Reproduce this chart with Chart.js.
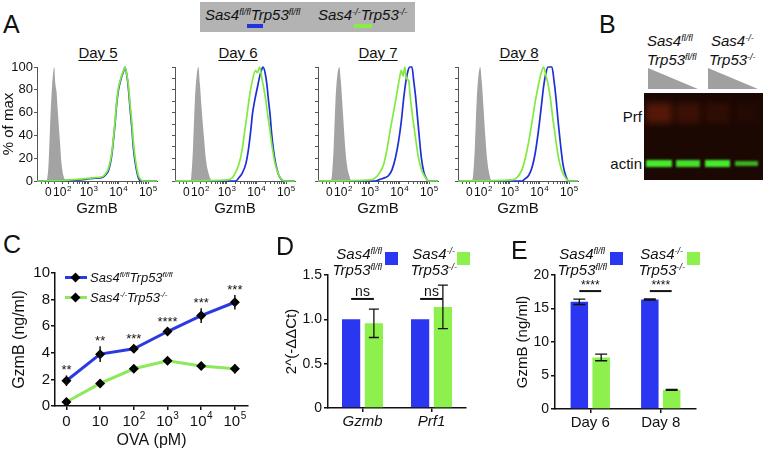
<!DOCTYPE html>
<html>
<head>
<meta charset="utf-8">
<script src="https://cdn.jsdelivr.net/npm/chart.js@4.4.1/dist/chart.umd.min.js"></script>
<style>
  body { margin: 0; width: 763px; height: 450px; position: relative; overflow: hidden; background: #fff;
         font-family: 'Liberation Sans', Arial, sans-serif; color: #111; }
  canvas, .t, .box { position: absolute; }
  .t { white-space: nowrap; line-height: 1; }
  .big { font-size: 25px; }
  .it { font-style: italic; }
  .s15 { font-size: 15px; }
  .s13 { font-size: 13px; }
  .day { font-size: 15px; text-decoration: underline; text-underline-offset: 2px; transform: translateX(-50%); }
  sup { font-size: 0.6em; position: relative; top: -0.6em; vertical-align: baseline; line-height: 0; }
</style>
</head>
<body>

<!-- panel A -->
<div class="t big" style="left:3px;top:12px">A</div>
<div class="box" style="left:200px;top:2px;width:215px;height:30px;background:#b3b3b3"></div>
<div class="t s15 it" style="left:205px;top:7px">Sas4<sup>fl/fl</sup>Trp53<sup>fl/fl</sup></div>
<div class="t s15 it" style="left:318px;top:7px">Sas4<sup>-/-</sup>Trp53<sup>-/-</sup></div>
<div class="box" style="left:247px;top:24px;width:16px;height:4px;background:#2233dd"></div>
<div class="box" style="left:354px;top:24px;width:18px;height:4px;background:#86ee45"></div>
<div class="t day" style="left:98px;top:45px">Day 5</div>
<div class="t day" style="left:238px;top:45px">Day 6</div>
<div class="t day" style="left:378px;top:45px">Day 7</div>
<div class="t day" style="left:519px;top:45px">Day 8</div>
<canvas id="h5" width="160" height="180" style="left:0px;top:40px"></canvas>
<canvas id="h6" width="160" height="180" style="left:138px;top:40px"></canvas>
<canvas id="h7" width="160" height="180" style="left:281px;top:40px"></canvas>
<canvas id="h8" width="160" height="180" style="left:421px;top:40px"></canvas>

<!-- panel B -->
<div class="t big" style="left:599px;top:12px">B</div>
<div class="t s15 it" style="left:647px;top:33px">Sas4<sup>fl/fl</sup></div>
<div class="t s15 it" style="left:647px;top:52px">Trp53<sup>fl/fl</sup></div>
<div class="t s15 it" style="left:711px;top:33px">Sas4<sup>-/-</sup></div>
<div class="t s15 it" style="left:709px;top:52px">Trp53<sup>-/-</sup></div>
<div class="box" style="left:648px;top:68px;width:50px;height:21px;background:#a0a0a0;clip-path:polygon(0 0,100% 100%,0 100%)"></div>
<div class="box" style="left:708px;top:68px;width:50px;height:21px;background:#a0a0a0;clip-path:polygon(0 0,100% 100%,0 100%)"></div>
<canvas id="blot" width="119" height="87" style="left:644px;top:93px"></canvas>
<div class="t s15" style="right:121px;top:109px">Prf</div>
<div class="t s15" style="right:121px;top:156px">actin</div>

<!-- panel C -->
<div class="t big" style="left:3px;top:232px">C</div>
<canvas id="cC" width="262" height="220" style="left:0px;top:230px"></canvas>
<div class="box" style="left:65px;top:276px;width:22px;height:3px;background:#2a3ae0"></div>
<div class="box" style="left:72px;top:274px;width:7px;height:7px;background:#000;transform:rotate(45deg)"></div>
<div class="t s13 it" style="left:90px;top:271px">Sas4<sup>fl/fl</sup>Trp53<sup>fl/fl</sup></div>
<div class="box" style="left:65px;top:296px;width:22px;height:3px;background:#8de85a"></div>
<div class="box" style="left:72px;top:294px;width:7px;height:7px;background:#000;transform:rotate(45deg)"></div>
<div class="t s13 it" style="left:90px;top:291px">Sas4<sup>-/-</sup>Trp53<sup>-/-</sup></div>

<!-- panel D -->
<div class="t big" style="left:276px;top:234px">D</div>
<canvas id="cD" width="200" height="220" style="left:270px;top:230px"></canvas>
<div class="t s15 it" style="right:381px;top:246px">Sas4<sup>fl/fl</sup></div>
<div class="t s15 it" style="right:381px;top:262px">Trp53<sup>fl/fl</sup></div>
<div class="box" style="left:385px;top:252px;width:13px;height:13px;background:#2a36ef"></div>
<div class="t s15 it" style="right:308px;top:246px">Sas4<sup>-/-</sup></div>
<div class="t s15 it" style="right:306px;top:262px">Trp53<sup>-/-</sup></div>
<div class="box" style="left:457px;top:252px;width:13px;height:13px;background:#8df04c"></div>

<!-- panel E -->
<div class="t big" style="left:511px;top:238px">E</div>
<canvas id="cE" width="190" height="220" style="left:510px;top:230px"></canvas>
<div class="t s15 it" style="right:158px;top:246px">Sas4<sup>fl/fl</sup></div>
<div class="t s15 it" style="right:156px;top:262px">Trp53<sup>fl/fl</sup></div>
<div class="box" style="left:610px;top:252px;width:13px;height:13px;background:#2a36ef"></div>
<div class="t s15 it" style="right:80px;top:246px">Sas4<sup>-/-</sup></div>
<div class="t s15 it" style="right:78px;top:262px">Trp53<sup>-/-</sup></div>
<div class="box" style="left:687px;top:252px;width:13px;height:13px;background:#8df04c"></div>

<script>
// ---- data ----
// flow histograms: [GzmB position in decades (biexponential display), % of max]
const histTickLabels = ['0', '10^2', '10^3', '10^4', '10^5'];
const histTickPos = [1.63, 2.1, 3, 4, 5];
const d5Gray = [[1.25,0],[1.56,0],[1.60,3],[1.64,15],[1.69,47],[1.75,80],[1.80,96],[1.83,100],[1.87,85],[1.91,78],[1.95,62],[2.03,33],[2.08,15],[2.15,4],[2.25,0],[5.3,0]];
const d5Blue = [[1.25,0],[2.3,0.5],[2.9,1.5],[3.2,2.5],[3.43,3],[3.55,5],[3.66,9],[3.77,22],[3.83,36],[3.89,52],[3.94,68],[4.0,80],[4.09,90],[4.17,96],[4.22,100],[4.28,93],[4.34,80],[4.39,64],[4.45,47],[4.5,30],[4.56,17],[4.62,8],[4.67,3],[4.76,0],[5.3,0]];
const d5Green = [[1.25,0],[2.3,0.8],[2.9,2],[3.2,3],[3.43,3.5],[3.55,6],[3.66,11],[3.77,24],[3.83,38],[3.89,54],[3.94,70],[4.0,82],[4.09,91],[4.17,97],[4.22,100],[4.28,94],[4.34,83],[4.39,68],[4.45,52],[4.5,35],[4.56,21],[4.62,11],[4.67,5],[4.76,1],[4.85,0],[5.3,0]];
const d6Gray = [[1.25,0],[1.75,0],[1.8,4],[1.86,30],[1.92,70],[1.98,92],[2.04,100],[2.09,85],[2.15,63],[2.23,38],[2.29,20],[2.38,7],[2.51,0],[5.3,0]];
const d6Blue = [[1.25,0],[3.3,0],[3.41,3],[3.52,7],[3.64,15],[3.73,28],[3.81,45],[3.86,58],[3.95,72],[4.03,82],[4.11,92],[4.18,98],[4.22,100],[4.29,95],[4.35,85],[4.4,72],[4.46,58],[4.51,42],[4.57,28],[4.65,15],[4.74,6],[4.82,2],[4.93,0],[5.3,0]];
const d6Green = [[1.25,0],[3.02,1],[3.19,3],[3.3,8],[3.41,15],[3.52,28],[3.61,45],[3.69,60],[3.77,75],[3.86,88],[3.97,97],[4.03,95],[4.11,100],[4.18,90],[4.22,85],[4.29,75],[4.37,60],[4.45,45],[4.54,28],[4.63,15],[4.74,6],[4.87,1],[4.98,0],[5.3,0]];
const d7Gray = [[1.25,0],[1.66,0],[1.72,5],[1.78,30],[1.84,70],[1.9,92],[1.97,100],[2.02,88],[2.08,65],[2.14,40],[2.2,20],[2.28,7],[2.4,0],[5.3,0]];
const d7Blue = [[1.25,0],[3.19,0],[3.3,1],[3.41,2],[3.52,3],[3.64,5],[3.75,10],[3.86,20],[3.97,35],[4.06,52],[4.14,72],[4.22,88],[4.29,97],[4.35,100],[4.42,100],[4.48,88],[4.54,75],[4.6,58],[4.67,38],[4.74,20],[4.82,8],[4.91,2],[4.99,0],[5.3,0]];
const d7Green = [[1.25,0],[3.02,1],[3.19,3],[3.35,8],[3.47,15],[3.58,28],[3.69,45],[3.81,62],[3.92,78],[4.0,90],[4.06,97],[4.12,92],[4.18,100],[4.23,90],[4.31,88],[4.37,72],[4.45,55],[4.54,38],[4.63,22],[4.74,10],[4.85,4],[4.99,0],[5.3,0]];
const d8Gray = [[1.25,0],[1.7,0],[1.76,5],[1.82,30],[1.88,70],[1.94,92],[2.0,100],[2.05,88],[2.11,65],[2.17,40],[2.23,20],[2.3,7],[2.4,0],[5.3,0]];
const d8Blue = [[1.25,0],[3.41,0],[3.52,2],[3.64,5],[3.75,12],[3.86,25],[3.97,45],[4.06,65],[4.14,83],[4.22,95],[4.29,100],[4.42,100],[4.49,88],[4.56,72],[4.63,52],[4.71,32],[4.79,15],[4.88,5],[4.99,0],[5.3,0]];
const d8Green = [[1.25,0],[3.07,1],[3.24,3],[3.41,10],[3.52,20],[3.64,35],[3.75,52],[3.86,70],[3.97,85],[4.06,95],[4.14,100],[4.22,92],[4.29,85],[4.37,72],[4.45,55],[4.54,38],[4.63,22],[4.74,10],[4.87,3],[4.99,0],[5.3,0]];

// panel C
const ovaLabels = ['0', '10', '10^2', '10^3', '10^4', '10^5'];
const cBlue = [1.9, 3.9, 4.3, 5.6, 6.8, 7.8];
const cBlueErr = [0.4, 0.6, 0.2, 0.12, 0.55, 0.55];
const cGreen = [0.3, 1.7, 2.8, 3.4, 3.0, 2.8];
const cGreenErr = [0.15, 0.1, 0.1, 0.12, 0.12, 0.35];
const cStars = ['**', '**', '***', '****', '***', '***'];

// panel D
const dCats = ['Gzmb', 'Prf1'];
const dBlue = [1.0, 1.0];
const dBlueErr = [0, 0];
const dGreen = [0.955, 1.14];
const dGreenErr = [0.16, 0.245];
const dSig = ['ns', 'ns'];
const dSigLevel = [1.23, 1.23];

// panel E
const eCats = ['Day 6', 'Day 8'];
const eBlue = [16.0, 16.35];
const eBlueErr = [0.4, 0.1];
const eGreen = [7.7, 2.85];
const eGreenErr = [0.5, 0.08];
const eSig = ['****', '****'];
const eSigLevel = [17.6, 17.6];

// ---- setup ----
const FONT = "'Liberation Sans', Arial, sans-serif";
Chart.defaults.font.family = FONT;
Chart.defaults.color = '#111';
Chart.defaults.animation = false;
const BLUE = '#2a36ef', GREEN = '#8df04c';
const HBLUE = '#1f2fd6', HGREEN = '#80ea3e', HGRAY = '#a3a3a3';

// tick labels like 10^3 drawn with a raised exponent
const expTicks = {
  id: 'expTicks',
  afterDraw(chart, args, o) {
    if (!o.labels) return;
    const ctx = chart.ctx, sx = chart.scales.x;
    const y = sx.top + o.dy;
    ctx.save();
    ctx.fillStyle = '#111';
    ctx.textBaseline = 'middle';
    ctx.textAlign = 'left';
    o.labels.forEach((lab, i) => {
      const x = sx.getPixelForValue(o.pos[i]);
      const [b, e] = lab.split('^');
      const small = Math.round(o.size * 0.65) + 'px ' + FONT;
      ctx.font = o.size + 'px ' + FONT;
      const wb = ctx.measureText(b).width;
      let we = 0;
      if (e) { ctx.font = small; we = ctx.measureText(e).width + 0.5; }
      const x0 = x - (wb + we) / 2;
      ctx.font = o.size + 'px ' + FONT;
      ctx.fillText(b, x0, y);
      if (e) { ctx.font = small; ctx.fillText(e, x0 + wb + 0.5, y - o.size * 0.38); }
    });
    ctx.restore();
  }
};

const errorBars = {
  id: 'errorBars',
  afterDatasetsDraw(chart, args, o) {
    const ctx = chart.ctx, ys = chart.scales.y;
    ctx.save();
    ctx.strokeStyle = '#111';
    ctx.lineWidth = o.width || 1.5;
    chart.data.datasets.forEach((ds, i) => {
      if (!ds.errs) return;
      chart.getDatasetMeta(i).data.forEach((el, j) => {
        const e = ds.errs[j];
        if (!e) return;
        const y1 = ys.getPixelForValue(ds.vals[j] + e), y2 = ys.getPixelForValue(ds.vals[j] - e);
        ctx.beginPath();
        ctx.moveTo(el.x, y1); ctx.lineTo(el.x, y2);
        if (o.cap) {
          ctx.moveTo(el.x - o.cap, y1); ctx.lineTo(el.x + o.cap, y1);
          ctx.moveTo(el.x - o.cap, y2); ctx.lineTo(el.x + o.cap, y2);
        }
        ctx.stroke();
      });
    });
    ctx.restore();
  }
};

// significance bars between the two bars of a group
const sig = {
  id: 'sig',
  afterDatasetsDraw(chart, args, o) {
    if (!o.labels) return;
    const ctx = chart.ctx, ys = chart.scales.y;
    const m0 = chart.getDatasetMeta(0).data, m1 = chart.getDatasetMeta(1).data;
    ctx.save();
    ctx.strokeStyle = '#111'; ctx.fillStyle = '#111';
    ctx.lineWidth = o.width;
    ctx.font = o.size + 'px ' + FONT;
    ctx.textAlign = 'center'; ctx.textBaseline = 'alphabetic';
    o.labels.forEach((t, j) => {
      const y = ys.getPixelForValue(o.level[j]);
      const x1 = m0[j].x, x2 = m1[j].x;
      ctx.beginPath(); ctx.moveTo(x1, y); ctx.lineTo(x2, y); ctx.stroke();
      ctx.fillText(t, (x1 + x2) / 2, y - o.gap);
    });
    ctx.restore();
  }
};

const stars = {
  id: 'stars',
  afterDatasetsDraw(chart, args, o) {
    if (!o.labels) return;
    const ctx = chart.ctx, ys = chart.scales.y;
    const ds = chart.data.datasets[0], pts = chart.getDatasetMeta(0).data;
    ctx.save();
    ctx.fillStyle = '#111';
    ctx.font = o.size + 'px ' + FONT;
    ctx.textAlign = 'center'; ctx.textBaseline = 'alphabetic';
    o.labels.forEach((t, j) => {
      const top = Math.min(ys.getPixelForValue(ds.vals[j] + ds.errs[j]), pts[j].y - 5);
      ctx.fillText(t, pts[j].x, top - 1);
    });
    ctx.restore();
  }
};

Chart.register(expTicks, errorBars, sig, stars);

// minor ticks on the GzmB axis
const histMinor = [1.4, 1.52, 1.85];
[2, 3, 4].forEach(n => { for (let k = 2; k < 10; k++) histMinor.push(n + Math.log10(k)); });

function hist(id, gray, blue, green, first) {
  const pts = a => a.map(p => ({ x: p[0], y: p[1] }));
  const line = (a, c) => ({ data: pts(a), borderColor: c, borderWidth: 1.7, pointRadius: 0,
                            cubicInterpolationMode: 'monotone', clip: false, fill: false });
  new Chart(document.getElementById(id), {
    type: 'line',
    data: {
      datasets: [
        line(green, HGREEN),
        line(blue, HBLUE),
        { data: pts(gray), borderWidth: 0, backgroundColor: HGRAY, fill: 'origin', pointRadius: 0,
          cubicInterpolationMode: 'monotone' }
      ]
    },
    options: {
      responsive: false,
      animation: false,
      layout: { padding: { top: 27, right: 3 } },
      plugins: {
        legend: { display: false },
        tooltip: { enabled: false },
        expTicks: { pos: histTickPos, labels: histTickLabels, size: 12, dy: 12 }
      },
      scales: {
        x: {
          type: 'linear', min: 1.25, max: 5.3,
          afterBuildTicks: s => { s.ticks = histMinor.concat(histTickPos).map(v => ({ value: v })); },
          afterFit: s => { s.height = 39; },
          ticks: { display: false },
          grid: { drawOnChartArea: false, tickLength: 3, color: '#555' },
          border: { color: '#555' },
          title: { display: true, text: 'GzmB', font: { size: 15 }, padding: { top: 0, bottom: 2 } }
        },
        y: {
          min: 0, max: 100,
          afterFit: s => { s.width = 37; },
          ticks: { display: first, stepSize: 10, font: { size: 13 }, padding: 1,
                   callback: v => (v % 20 === 0 ? v : '') },
          grid: { drawOnChartArea: false, tickLength: 3, color: '#555' },
          border: { color: '#555' },
          title: { display: first, text: '% of max', font: { size: 15 }, padding: { top: 0, bottom: 0 } }
        }
      }
    }
  });
}

hist('h5', d5Gray, d5Blue, d5Green, true);
hist('h6', d6Gray, d6Blue, d6Green, false);
hist('h7', d7Gray, d7Blue, d7Green, false);
hist('h8', d8Gray, d8Blue, d8Green, false);

// western blot picture (not a chart)
(function () {
  const g = document.getElementById('blot').getContext('2d');
  g.fillStyle = '#1c0803';
  g.fillRect(0, 0, 119, 87);
  const lanes = [[2, 26], [32, 24], [61, 25], [91, 23]];
  const prf = [0.38, 0.22, 0.13, 0.05];
  const actin = [1, 0.95, 1, 0.75];
  g.filter = 'blur(3px)';
  lanes.forEach((l, i) => {
    g.fillStyle = 'rgba(175,50,18,' + prf[i] + ')';
    g.fillRect(l[0], 10, l[1], 20);
  });
  g.filter = 'blur(1.2px)';
  lanes.forEach((l, i) => {
    g.fillStyle = 'rgba(70,235,45,' + actin[i] + ')';
    g.fillRect(l[0], i === 3 ? 68 : 67, l[1], i === 3 ? 5 : 7);
  });
})();

const axisC = { drawOnChartArea: false, tickLength: 4, color: '#111', lineWidth: 1.5 };

new Chart(document.getElementById('cC'), {
  type: 'line',
  data: {
    datasets: [
      { data: cBlue.map((v, i) => ({ x: i, y: v })), vals: cBlue, errs: cBlueErr,
        borderColor: '#2a3ae0', borderWidth: 3, pointStyle: 'rectRot', pointRadius: 5,
        pointBackgroundColor: '#000', pointBorderColor: '#000', pointBorderWidth: 0 },
      { data: cGreen.map((v, i) => ({ x: i, y: v })), vals: cGreen, errs: cGreenErr,
        borderColor: '#8de85a', borderWidth: 3, pointStyle: 'rectRot', pointRadius: 5,
        pointBackgroundColor: '#000', pointBorderColor: '#000', pointBorderWidth: 0 }
    ]
  },
  options: {
    responsive: false,
    animation: false,
    layout: { padding: { top: 43, right: 14 } },
    plugins: {
      legend: { display: false },
      tooltip: { enabled: false },
      expTicks: { pos: ovaLabels.map((l, i) => i), labels: ovaLabels, size: 15, dy: 16 },
      errorBars: { width: 1.5 },
      stars: { labels: cStars, size: 13 }
    },
    scales: {
      x: {
        type: 'linear', min: -0.34, max: 5.39,
        afterBuildTicks: s => { s.ticks = ovaLabels.map((l, i) => ({ value: i })); },
        afterFit: s => { s.height = 44; },
        ticks: { display: false },
        grid: axisC,
        border: { color: '#111', width: 1.5 },
        title: { display: true, text: 'OVA (pM)', font: { size: 16 }, padding: { top: 0, bottom: 0 } }
      },
      y: {
        min: 0, max: 10,
        afterFit: s => { s.width = 55; },
        ticks: { stepSize: 2, font: { size: 15 }, padding: 1 },
        grid: axisC,
        border: { color: '#111', width: 1.5 },
        title: { display: true, text: 'GzmB (ng/ml)', font: { size: 16 }, padding: { top: 10, bottom: 0 } }
      }
    }
  }
});

function bars(id, cats, blue, blueErr, green, greenErr, o) {
  new Chart(document.getElementById(id), {
    type: 'bar',
    data: {
      labels: cats,
      datasets: [
        { data: blue, vals: blue, errs: blueErr, backgroundColor: BLUE,
          categoryPercentage: o.cat, barPercentage: 0.8 },
        { data: green, vals: green, errs: greenErr, backgroundColor: GREEN,
          categoryPercentage: o.cat, barPercentage: 0.8 }
      ]
    },
    options: {
      responsive: false,
      animation: false,
      layout: { padding: { top: 45, right: 4 } },
      plugins: {
        legend: { display: false },
        tooltip: { enabled: false },
        errorBars: { width: 1.3, cap: o.cap },
        sig: o.sig
      },
      scales: {
        x: {
          afterFit: s => { s.height = o.xh; },
          ticks: { font: { size: 15, style: o.italic ? 'italic' : 'normal' }, padding: 1 },
          grid: { drawOnChartArea: false, offset: false, tickLength: 4, color: '#111', lineWidth: 1.5 },
          border: { color: '#111', width: 1.5 }
        },
        y: {
          min: 0, max: o.max,
          afterFit: s => { s.width = o.yw; },
          ticks: { stepSize: o.step, font: { size: 14 }, padding: 2, callback: o.fmt },
          grid: axisC,
          border: { color: '#111', width: 1.5 },
          title: { display: true, text: o.title, font: { size: 15 }, padding: { top: o.tp, bottom: 0 } }
        }
      }
    }
  });
}

bars('cD', dCats, dBlue, dBlueErr, dGreen, dGreenErr, {
  cat: 0.66, cap: 5, xh: 42, yw: 58, max: 1.5, step: 0.5, italic: true, title: '2^(-ΔΔCt)', tp: 13,
  fmt: v => (v === 0 ? '0' : v.toFixed(1)),
  sig: { labels: dSig, level: dSigLevel, size: 14, gap: 3, width: 2 }
});

bars('cE', eCats, eBlue, eBlueErr, eGreen, eGreenErr, {
  cat: 0.62, cap: 6, xh: 41, yw: 45, max: 20, step: 5, italic: false, title: 'GzmB (ng/ml)', tp: 4,
  fmt: v => v,
  sig: { labels: eSig, level: eSigLevel, size: 12, gap: 2, width: 2 }
});
</script>
</body>
</html>
